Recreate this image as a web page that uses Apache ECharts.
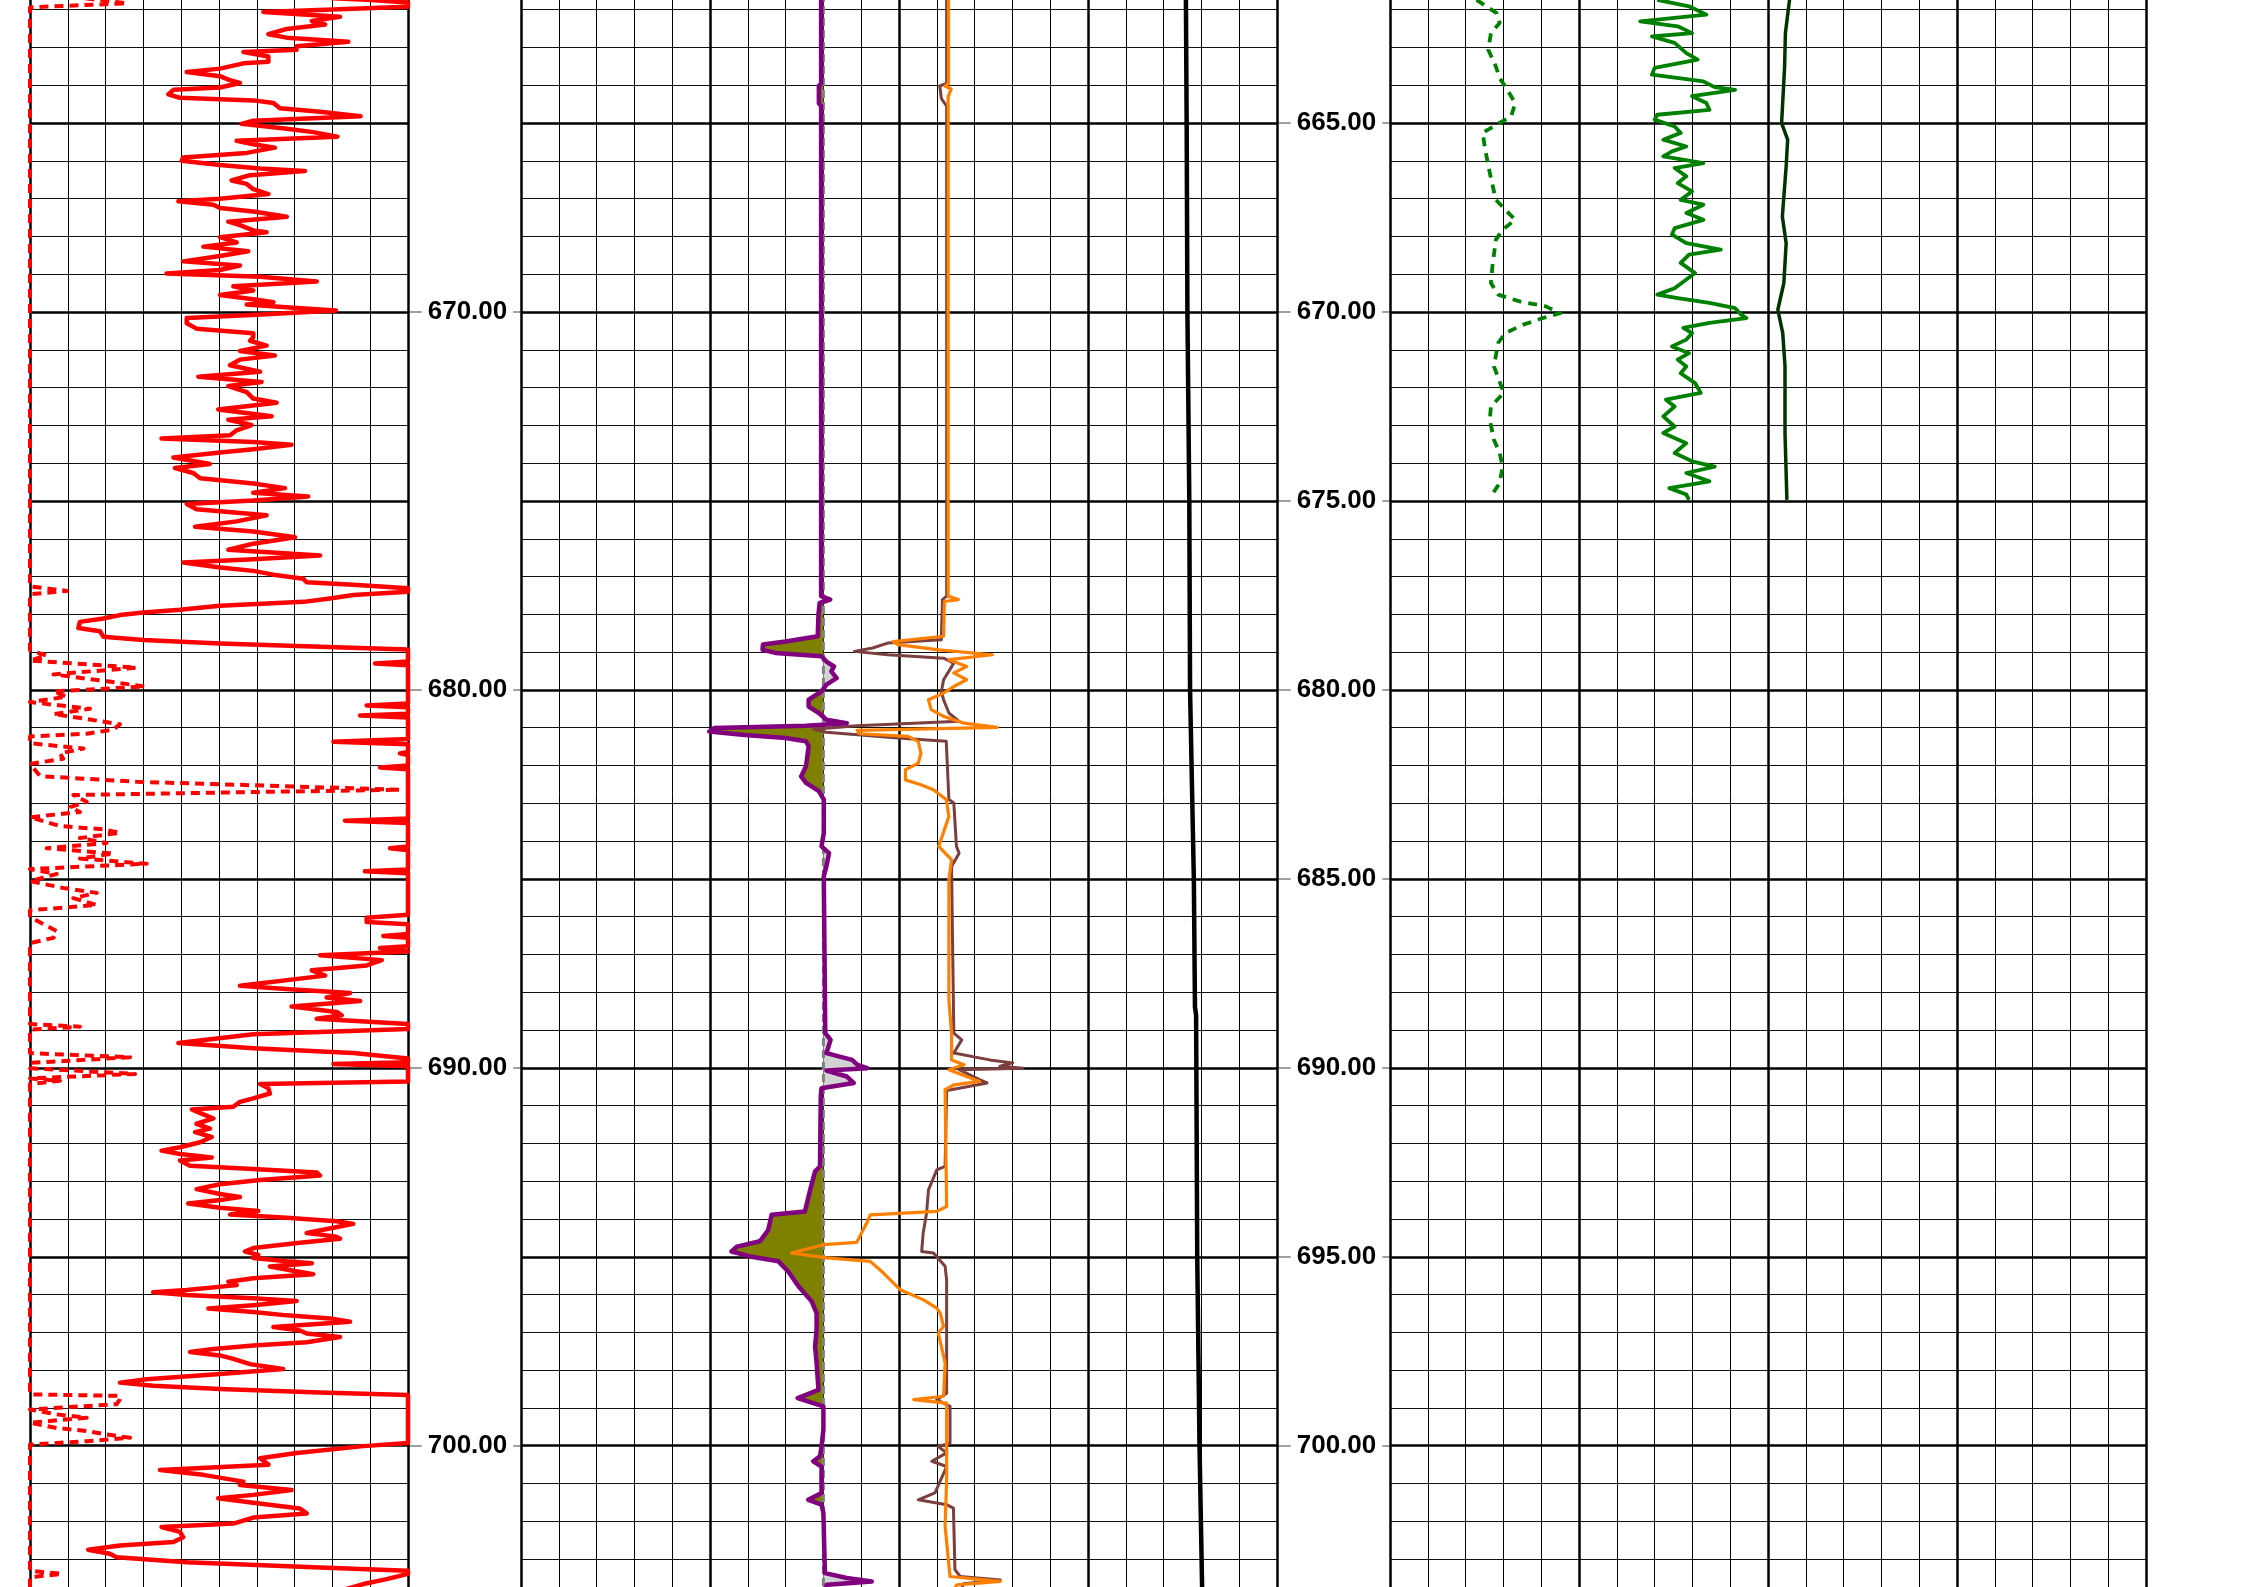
<!DOCTYPE html>
<html><head><meta charset="utf-8">
<script src="https://cdn.jsdelivr.net/npm/echarts@6/dist/echarts.min.js"></script>
<style>html,body{margin:0;padding:0;background:#fff}#c{width:2246px;height:1587px}</style>
</head><body><div id="c"></div>
<script>
// ---------------- DATA (pairs are [depth, value]) ----------------
// Track 1: gamma ray, 0-150 scale, and its backup (wrapped) curve
const grMain = [[661.70,120],[661.74,133.6],[661.81,150],[661.92,150],[662.06,92.6],[662.19,123.0],[662.30,111.8],[662.39,117.1],[662.51,101.9],[662.65,94.6],[662.74,101.9],[662.85,126.3],[662.97,105.8],[663.06,105.8],[663.12,84.7],[663.24,94.6],[663.38,94.6],[663.42,84.7],[663.56,75.4],[663.65,62.2],[663.76,75.4],[663.85,78.7],[663.94,83.3],[664.06,75.4],[664.12,56.9],[664.24,54.9],[664.33,59.5],[664.40,88.6],[664.47,96.6],[664.61,99.2],[664.70,115.1],[664.82,131.2],[664.94,88.6],[665.02,84.0],[665.15,101.9],[665.24,112.4],[665.36,122.0],[665.47,82.0],[665.56,88.6],[665.65,97.2],[665.79,86.0],[665.91,60.8],[666.00,60.2],[666.11,75.4],[666.20,91.3],[666.27,109.1],[666.38,87.3],[666.52,80.0],[666.61,86.0],[666.75,88.6],[666.88,94.6],[667.00,75.4],[667.07,58.9],[667.16,72.8],[667.25,75.4],[667.34,88.6],[667.48,101.9],[667.61,78.7],[667.70,83.3],[667.84,88.6],[667.89,93.9],[668.02,75.4],[668.16,82.0],[668.27,68.8],[668.39,86.6],[668.52,75.4],[668.66,60.8],[668.77,83.3],[668.89,75.4],[668.98,54.2],[669.07,91.3],[669.19,113.8],[669.32,80.7],[669.43,88.6],[669.55,75.4],[669.66,88.6],[669.74,96.6],[669.80,86.0],[669.89,104.5],[669.96,121.4],[670.07,89.9],[670.16,62.2],[670.30,62.2],[670.44,66.1],[670.56,88.6],[670.67,88.6],[670.76,87.3],[670.89,93.9],[671.03,83.3],[671.15,97.2],[671.26,83.3],[671.41,79.4],[671.58,91.3],[671.71,66.8],[671.85,91.9],[671.96,78.7],[672.12,86.0],[672.29,88.6],[672.40,97.9],[672.58,74.7],[672.76,95.9],[672.85,78.7],[672.99,87.9],[673.13,82.0],[673.26,79.4],[673.35,52.2],[673.44,88.6],[673.51,103.8],[673.63,88.6],[673.72,75.4],[673.85,56.9],[674.02,71.4],[674.13,57.5],[674.26,64.8],[674.40,67.5],[674.54,88.6],[674.66,101.2],[674.78,88.6],[674.88,110.4],[674.99,88.6],[675.08,62.2],[675.22,66.1],[675.38,93.9],[675.54,82.0],[675.68,65.5],[675.81,88.6],[675.96,105.2],[676.13,88.6],[676.29,78.7],[676.44,115.1],[676.54,88.6],[676.63,60.8],[676.76,75.4],[676.85,88.6],[676.95,96.6],[677.06,108.5],[677.15,109.8],[677.22,128.3],[677.31,150],[677.40,150],[677.49,128.3],[677.58,119.0],[677.67,108.5],[677.77,75.4],[677.88,59.5],[677.95,45.0],[678.02,35.7],[678.11,29.1],[678.20,19.8],[678.36,19.2],[678.45,27.8],[678.59,29.1],[678.68,45.0],[678.77,75.4],[678.86,115.1],[678.93,150],
[679.25,150],[679.30,136.9],[679.35,150],[680.36,150],[680.41,133.6],[680.46,150],[680.63,150],[680.68,131.0],[680.73,150],[681.30,150],[681.37,120.4],[681.44,150],[681.64,150],[681.68,146.8],[681.72,150],[682.00,150],[682.05,138.9],[682.10,150],[683.40,150],[683.46,125.0],[683.52,150],[684.14,150],[684.19,142.9],[684.24,150],[684.75,150],[684.80,132.9],[684.85,150],[685.95,150],[686.03,133.6],[686.14,133.6],[686.20,150],[686.46,150],[686.51,140.2],[686.56,150],[686.78,150],[686.83,138.9],[686.92,150],[687.02,115.1],[687.15,139.6],[687.29,133.6],[687.42,111.8],[687.56,117.1],[687.83,83.3],[687.93,104.5],[688.02,127.0],[688.14,117.7],[688.23,131.0],[688.38,103.8],[688.52,121.7],[688.61,123.7],[688.70,113.8],[688.84,150],[688.97,150],[689.11,88.6],[689.34,58.9],[689.48,88.6],[689.61,128.3],[689.75,150],[689.85,150],[689.90,120.4],[689.96,150],[690.36,150],[690.43,91.3],
[690.54,94.6],[690.68,95.2],[690.81,88.6],[690.90,83.3],[691.03,80.7],[691.10,64.2],[691.21,68.1],[691.34,72.8],[691.48,66.1],[691.61,71.4],[691.70,65.5],[691.83,72.1],[691.97,67.5],[692.10,59.5],[692.19,52.2],[692.28,59.5],[692.37,72.1],[692.45,59.5],[692.59,63.5],[692.68,88.6],[692.77,113.8],[692.85,115.1],[692.97,91.3],[693.08,75.4],[693.21,66.1],[693.34,75.4],[693.42,83.3],[693.50,75.4],[693.59,62.8],[693.70,75.4],[693.79,90.6],[693.88,79.4],[693.97,101.9],[694.06,121.7],[694.13,128.3],[694.23,120.4],[694.37,109.8],[694.46,121.0],[694.52,123.0],[694.63,107.1],[694.77,88.6],[694.86,85.3],[694.95,90.6],[695.03,88.6],[695.12,101.9],[695.17,111.8],[695.26,95.2],[695.37,104.5],[695.46,112.4],[695.57,88.6],[695.66,78.7],[695.75,82.0],[695.88,62.2],[695.94,48.9],[696.01,62.2],[696.10,88.6],[696.17,105.8],[696.28,88.6],[696.37,70.8],[696.46,88.6],[696.55,101.9],[696.63,119.0],[696.72,127.0],[696.86,96.6],[696.95,107.1],[697.03,109.8],[697.12,123.0],[697.26,109.8],[697.35,88.6],[697.44,72.8],[697.52,63.5],[697.61,75.4],[697.70,80.7],[697.84,87.3],[697.97,100.5],[698.10,75.4],[698.24,46.3],[698.33,35.7],[698.41,48.9],[698.50,75.4],[698.59,115.1],[698.66,150],[699.93,150],[700.01,132.3],[700.19,105.8],[700.33,91.3],[700.50,94.6],[700.64,51.6],[700.77,68.8],[700.95,84.7],[701.04,83.3],[701.17,103.8],[701.30,88.6],[701.39,74.7],[701.51,88.6],[701.66,107.1],[701.79,109.8],[701.90,88.6],[702.06,80.7],[702.15,52.2],[702.28,59.5],[702.42,60.8],[702.55,56.9],[702.64,35.7],[702.75,23.1],[702.86,31.7],[702.95,34.4],[703.08,62.2],[703.22,115.1],[703.31,150],[703.39,150],[703.53,141.5],[703.66,132.3],[703.80,125]];
const grBackup = [[661.70,22],[661.74,22],[661.83,38.4],[661.94,0],[677.26,0],[677.38,14.6],[677.47,0],[678.95,0],[679.09,6.6],[679.22,0],[679.41,42.3],[679.59,9.3],[679.77,30.4],[679.91,45.6],[680.04,9.3],[680.18,14.6],[680.32,0],[680.50,23.8],[680.64,9.3],[680.77,22.5],[680.91,35.7],[681.05,33.1],[681.16,22.5],[681.23,0],[681.41,0],[681.55,21.2],[681.68,11.9],[681.82,13.2],[681.96,0],[682.28,4.0],[682.43,42.3],[682.64,146.8],[682.78,17.2],[682.96,22.5],[683.10,15.9],[683.23,19.8],[683.37,0],[683.60,11.9],[683.69,29.1],[683.78,35.7],[683.92,19.8],[684.05,30.4],[684.19,6.6],[684.33,33.1],[684.46,19.8],[684.60,46.3],[684.74,0],[684.87,10.6],[685.06,0],[685.24,13.2],[685.37,26.5],[685.51,17.2],[685.69,26.5],[685.83,0],[686.01,0],[686.38,10.6],[686.56,9.3],[686.70,0],[688.84,0],[688.91,19.8],[688.99,0],[689.61,0],[689.72,39.7],[689.87,0],[690.01,0],[690.16,41.7],[690.28,0],[690.34,11.9],[690.43,0],[698.64,0],[698.68,35.7],[698.77,35.7],[698.90,34.4],[699.04,0],[699.17,10.6],[699.26,22.5],[699.39,0],[699.53,10.6],[699.61,22.5],[699.70,30.4],[699.79,39.7],[699.88,22.5],[699.97,0],[703.31,0],[703.39,12.6],[703.48,0],[703.80,0]];

// Track 2: SP (mV, -100..100) with baseline; two resistivity-style curves and a reference curve (0..200 scale)
const spBaseline = -20;
const spCurve = [[661.70,-20.6],[663.95,-20.6],[664.02,-21.2],[664.48,-21.2],[664.55,-20.6],[677.52,-20.6],[677.61,-18.2],[677.70,-21.0],[678.00,-21.3],[678.58,-21.5],[678.72,-30.0],[678.80,-36.0],[678.94,-36.1],[679.02,-32.7],[679.11,-20.5],[679.25,-19.2],[679.38,-17.2],[679.51,-17.9],[679.69,-16.5],[679.86,-19.2],[680.04,-20.5],[680.26,-23.9],[680.44,-23.9],[680.61,-21.2],[680.79,-19.2],[680.88,-13.8],[680.95,-24.6],[681.01,-48.9],[681.10,-50.2],[681.19,-40.8],[681.27,-30.0],[681.36,-24.6],[681.49,-23.9],[682.02,-24.6],[682.29,-25.9],[682.46,-24.6],[682.68,-21.2],[682.90,-19.9],[683.79,-19.9],[684.14,-20.5],[684.32,-18.5],[684.67,-19.2],[684.93,-19.9],[689.08,-19.5],[689.26,-18.1],[689.61,-19.2],[689.79,-12.4],[689.92,-11.0],[690.01,-8.4],[690.07,-19.2],[690.23,-13.8],[690.40,-12.0],[690.54,-20.5],[690.76,-20.7],[692.61,-20.9],[692.74,-22.2],[693.23,-23.5],[693.80,-24.9],[693.89,-33.7],[694.29,-34.6],[694.59,-36.8],[694.73,-42.9],[694.86,-44.3],[694.99,-39.4],[695.12,-31.9],[695.39,-29.3],[695.78,-26.6],[696.18,-23.1],[696.49,-21.8],[696.93,-21.8],[697.37,-22.2],[697.81,-21.8],[698.52,-21.3],[698.74,-26.8],[698.87,-22.7],[698.96,-20.0],[699.58,-20.0],[700.02,-20.5],[700.28,-20.9],[700.41,-22.7],[700.55,-20.5],[701.25,-20.5],[701.43,-24.0],[701.56,-20.5],[701.78,-20.0],[703.37,-19.6],[703.50,-13.8],[703.59,-7.2],[703.68,-19.1],[703.80,-19.5]];
const brownCurve = [[661.70,112.6],[663.95,112.6],[664.02,110.8],[664.35,111.2],[664.55,112.6],[677.52,112.6],[677.61,111.5],[678.67,111.2],[678.76,97.0],[678.89,93.0],[678.98,88.2],[679.07,97.0],[679.16,111.8],[679.29,114.5],[679.73,111.8],[680.04,111.2],[680.26,111.8],[680.61,113.2],[680.83,115.9],[680.95,88.9],[681.04,77.4],[681.12,80.8],[681.27,99.7],[681.36,112.5],[682.90,113.2],[682.99,114.5],[684.14,115.2],[684.32,115.9],[684.67,113.9],[689.08,114.5],[689.26,116.6],[689.61,114.5],[689.79,124.0],[689.87,130.1],[689.96,126.7],[690.01,132.8],[690.05,115.9],[690.31,121.3],[690.40,123.3],[690.54,115.9],[690.60,112.6],[692.61,112.2],[692.70,110.0],[693.23,107.8],[693.84,107.3],[694.37,106.4],[694.86,106.0],[694.90,109.1],[695.25,112.2],[695.61,112.6],[698.61,112.6],[698.78,110.0],[698.96,113.5],[699.93,113.5],[700.02,110.4],[700.19,112.6],[700.41,108.7],[700.55,112.6],[701.25,109.5],[701.43,105.1],[701.56,112.6],[701.65,114.4],[703.28,114.8],[703.46,116.2],[703.55,126.8],[703.65,117.1],[703.80,116.5]];
const orangeCurve = [[661.70,113.1],[663.95,113.1],[664.02,112.2],[664.10,113.8],[664.30,113.0],[677.52,113.0],[677.61,115.7],[677.66,112.0],[678.58,111.8],[678.72,98.4],[678.80,99.7],[678.94,110.5],[679.07,124.7],[679.20,113.2],[679.38,117.9],[679.55,114.5],[679.73,117.9],[679.91,114.5],[680.08,111.8],[680.26,107.8],[680.52,108.5],[680.70,111.8],[680.88,117.2],[680.99,126.0],[681.07,88.9],[681.16,89.6],[681.23,102.4],[681.36,105.1],[681.67,105.8],[681.94,105.1],[682.11,101.7],[682.38,101.7],[682.51,105.8],[682.64,109.1],[682.90,112.5],[683.35,113.2],[684.14,110.5],[684.49,113.9],[685.02,113.2],[688.20,113.2],[689.08,113.9],[689.79,113.9],[689.92,117.2],[690.05,113.2],[690.23,117.9],[690.36,121.3],[690.45,114.5],[690.58,112.2],[693.67,112.6],[693.80,110.0],[693.89,92.4],[694.02,91.9],[694.37,90.1],[694.62,88.8],[694.68,80.0],[694.90,71.6],[695.03,80.9],[695.12,92.4],[695.43,95.9],[695.87,100.3],[696.14,106.5],[696.36,110.0],[696.49,110.9],[696.84,111.8],[697.02,110.4],[697.81,112.2],[698.69,111.8],[698.78,103.9],[698.87,112.6],[700.90,112.6],[702.13,112.2],[703.46,113.5],[703.59,126.8],[703.68,115.3],[703.80,114.5]];
const blackCurve = [[661.70,175.9],[665.0,176.1],[670.0,176.3],[675.0,176.8],[680.0,177.0],[685.0,178.0],[688.4,178.3],[688.6,178.6],[695.0,178.9],[700.0,179.5],[703.8,180.2]];

// Track 3 (0..200 scale), recorded only down to 675
const greenDashed = [[661.74,22.9],[662.09,28.2],[662.35,29.0],[662.62,26.7],[663.06,26.0],[663.50,28.0],[663.81,29.0],[664.03,30.5],[664.47,33.1],[664.82,32.1],[665.04,28.2],[665.26,24.5],[665.71,25.2],[666.32,26.4],[667.03,28.0],[667.29,30.5],[667.56,33.1],[667.82,29.8],[668.09,28.0],[668.79,27.1],[669.23,26.7],[669.54,28.6],[669.72,34.3],[669.85,41.2],[670.03,45.0],[670.16,40.4],[670.34,35.1],[670.56,30.5],[670.82,28.6],[671.44,27.5],[672.14,30.1],[672.50,26.7],[672.85,26.4],[673.38,27.5],[673.73,29.0],[674.09,29.8],[674.53,29.0],[674.88,26.7]];
const greenSolid = [[661.74,70.7],[661.91,79.1],[662.13,83.7],[662.31,66.2],[662.44,76.1],[662.62,79.9],[662.71,69.3],[662.88,75.3],[663.15,78.4],[663.32,81.4],[663.54,70.0],[663.72,69.3],[663.90,82.9],[664.05,85.9],[664.12,91.3],[664.29,79.9],[664.47,83.7],[664.65,84.5],[664.78,70.7],[664.91,70.0],[665.09,75.3],[665.26,76.9],[665.44,72.3],[665.62,78.4],[665.75,74.6],[665.88,72.3],[666.06,82.9],[666.19,75.3],[666.41,78.4],[666.59,76.1],[666.81,79.9],[667.03,76.9],[667.16,82.9],[667.38,78.4],[667.56,82.9],[667.78,75.3],[667.95,74.6],[668.18,78.4],[668.35,87.5],[668.48,79.1],[668.70,76.9],[668.97,80.7],[669.14,78.4],[669.37,75.3],[669.54,70.7],[669.63,76.1],[669.76,84.5],[669.90,91.3],[670.07,92.9],[670.16,94.3],[670.29,84.5],[670.42,77.6],[670.56,79.9],[670.73,78.4],[670.91,74.6],[671.09,79.1],[671.26,76.1],[671.44,78.4],[671.62,76.9],[671.88,80.7],[672.14,82.2],[672.32,73.0],[672.50,75.3],[672.76,72.3],[673.03,75.3],[673.20,72.3],[673.47,78.4],[673.73,75.3],[673.95,79.9],[674.09,85.9],[674.26,78.4],[674.48,84.5],[674.66,73.9],[674.83,78.4],[674.97,79.1]];
const darkGreen = [[661.74,105.7],[662.62,104.6],[663.50,104.4],[665.00,103.6],[665.44,105.2],[666.15,104.8],[667.47,103.8],[668.18,104.8],[669.23,104.2],[669.94,102.6],[670.56,103.9],[671.44,104.5],[673.20,104.5],[674.97,105.0]];

// Depth tick labels
const depthLabelStepLeft = 10;
const depthLabelStepRight = 5;

// ---------------- CHART ----------------
const DMIN = 660, DMAX = 705;
const GRID_TOP = -65.9, GRID_H = 1700.6;
const cols = [
  {left: 30, width: 378},
  {left: 408, width: 113},
  {left: 521, width: 756},
  {left: 1277, width: 113},
  {left: 1390, width: 756}
];
const grids = cols.map(c => ({left: c.left, width: c.width, top: GRID_TOP, height: GRID_H,
  containLabel: false, outerBoundsMode: 'none', show: false}));

function xa(grid, min, max, interval, width, show) {
  return {type: 'value', gridIndex: grid, min, max, interval, position: 'top',
    axisLine: {show: false}, axisTick: {show: false}, axisLabel: {show: false},
    splitLine: {show: !!show, lineStyle: {color: '#000', width: width}}};
}
function ya(grid, interval, width, color) {
  return {type: 'value', gridIndex: grid, min: DMIN, max: DMAX, interval, inverse: true, position: 'left',
    axisLine: {show: false}, axisTick: {show: false}, axisLabel: {show: false},
    splitLine: {show: true, lineStyle: {color: color, width: width}}};
}
const labelAxis = (grid, step) => ({type: 'value', gridIndex: grid, min: DMIN, max: DMAX, interval: step, inverse: true, z: 5,
  position: 'right',
  axisLine: {show: false}, axisTick: {show: false}, splitLine: {show: false},
  axisLabel: {show: true, inside: true, margin: 53.5, align: 'center', verticalAlign: 'middle',
    formatter: v => v.toFixed(2), color: '#000', fontFamily: 'Liberation Sans', fontWeight: 'bold', fontSize: 26,
    backgroundColor: '#fff', padding: [11, 6, 0, 6]}});

const xAxis = [
  xa(0, 0, 150, 15, 1, true),     // 0 track1 minor
  xa(0, 0, 150, 150, 2.5, true),  // 1 track1 borders
  xa(1, 0, 1, 1, 1, false),       // 2 depth col 1
  xa(2, 0, 200, 10, 1, true),     // 3 track2 minor
  xa(2, 0, 200, 50, 2.5, true),   // 4 track2 major
  xa(2, -100, 100, 10, 1, false), // 5 track2 SP scale
  xa(3, 0, 1, 1, 1, false),       // 6 depth col 2
  xa(4, 0, 200, 10, 1, true),     // 7 track3 minor
  xa(4, 0, 200, 50, 2.5, true)    // 8 track3 major
];
const yAxis = [
  ya(0, 1, 1, '#111'),            // 0
  ya(0, 5, 2.5, '#000'),          // 1
  ya(1, depthLabelStepLeft, 1.5, '#808080'), // 2
  labelAxis(1, depthLabelStepLeft),          // 3
  ya(2, 1, 1, '#111'),            // 4
  ya(2, 5, 2.5, '#000'),          // 5
  ya(3, depthLabelStepRight, 1.5, '#808080'), // 6
  labelAxis(3, depthLabelStepRight),          // 7
  ya(4, 1, 1, '#111'),            // 8
  ya(4, 5, 2.5, '#000')           // 9
];

const toXY = arr => arr.map(p => [p[1], p[0]]);
function line(name, data, xi, yi, color, width, type, z) {
  return {name, type: 'line', xAxisIndex: xi, yAxisIndex: yi, data: toXY(data), showSymbol: false, symbol: 'none',
    clip: true, silent: true, z: z || 3, lineStyle: {color, width, type: type || 'solid', join: 'round', cap: 'butt'}};
}

const spFill = {
  type: 'custom', xAxisIndex: 5, yAxisIndex: 4, clip: true, silent: true, z: 2,
  data: [[spBaseline, spCurve[0][0]]],
  renderItem: function (params, api) {
    const n = spCurve.length;
    const top = spCurve[0][0], bot = spCurve[n - 1][0];
    const left = spCurve.map(p => api.coord([Math.min(p[1], spBaseline), p[0]]));
    left.push(api.coord([spBaseline, bot]), api.coord([spBaseline, top]));
    const right = spCurve.map(p => api.coord([Math.max(p[1], spBaseline), p[0]]));
    right.push(api.coord([spBaseline, bot]), api.coord([spBaseline, top]));
    return {type: 'group', children: [
      {type: 'polygon', shape: {points: left}, style: {fill: '#808000', stroke: null}},
      {type: 'polygon', shape: {points: right}, style: {fill: '#d3d3d3', stroke: null}}
    ]};
  }
};

const series = [
  line('GR backup', grBackup, 0, 0, '#ff0000', 4, [9, 6], 3),
  line('GR', grMain, 0, 0, '#ff0000', 4.5, 'solid', 4),
  spFill,
  line('SP baseline', [[DMIN, spBaseline], [DMAX, spBaseline]], 5, 4, '#808080', 3, [8, 4], 3),
  line('Brown', brownCurve, 3, 4, '#7b3f3f', 3, 'solid', 4),
  line('Orange', orangeCurve, 3, 4, '#ff8000', 3.2, 'solid', 5),
  line('Black', blackCurve, 3, 4, '#000000', 4.5, 'solid', 4),
  line('SP', spCurve, 5, 4, '#800080', 4.5, 'solid', 6),
  line('Green dashed', greenDashed, 7, 8, '#008000', 3.8, [9, 7], 3),
  line('Green', greenSolid, 7, 8, '#008000', 3.8, 'solid', 4),
  line('Dark green', darkGreen, 7, 8, '#003300', 3.5, 'solid', 4)
];

const chart = echarts.init(document.getElementById('c'), null, {renderer: 'canvas', width: 2246, height: 1587});
chart.setOption({
  animation: false,
  backgroundColor: '#ffffff',
  grid: grids,
  xAxis, yAxis, series
});
</script>
</body></html>
